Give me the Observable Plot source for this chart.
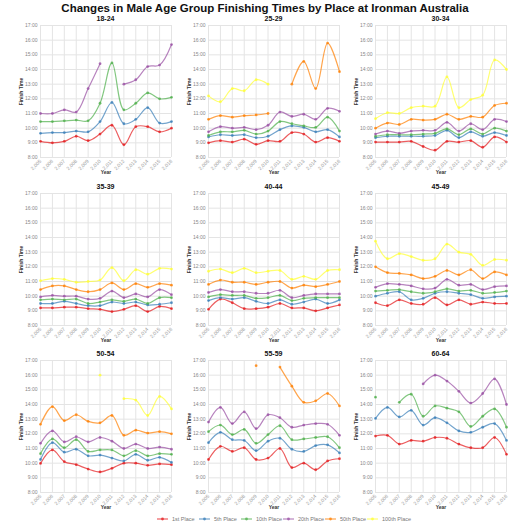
<!DOCTYPE html>
<html><head><meta charset="utf-8">
<script src="https://cdn.jsdelivr.net/npm/d3@7"></script>
<script src="https://cdn.jsdelivr.net/npm/@observablehq/plot@0.6"></script>
<style>
body{margin:0;background:#fff;font-family:"Liberation Sans",Arial,sans-serif;}
#wrap{position:relative;width:530px;height:530px;overflow:hidden;background:#fff;}
#title{position:absolute;top:2px;left:0;width:530px;text-align:center;font-weight:bold;font-size:11.5px;color:#111;}
.panel{position:absolute;}
.ptitle{position:absolute;width:131px;text-align:center;font-weight:bold;font-size:7px;color:#111;line-height:8px;}
.panel svg [aria-label="y-axis label"],.panel svg [aria-label="x-axis label"]{fill:#333;font-weight:bold;}
#legend{position:absolute;top:516px;left:157px;display:flex;}
.item{width:42px;display:flex;align-items:center;font-size:5.5px;color:#777;white-space:nowrap;}
.item svg{margin-right:4px;flex:none;}
</style></head>
<body><div id="wrap"><div id="title">Changes in Male Age Group Finishing Times by Place at Ironman Australia</div><div id="legend"></div></div>
<script>
const years = [2005,2006,2007,2008,2009,2010,2011,2012,2013,2014,2015,2016];
const places = ["1st Place","5th Place","10th Place","20th Place","50th Place","100th Place"];
const ageGroups = ["18-24","25-29","30-34","35-39","40-44","45-49","50-54","55-59","60-64"];
const colors = ["#e41a1c","#377eb8","#4daf4a","#984ea3","#ff7f00","#ffff33"];
const yTicks = [8,9,10,11,12,13,14,15,16,17];

// finishing times in hours, one row per place (1st, 5th, 10th, 20th, 50th, 100th)
const age18_24 = [
  [9.1,9.0,9.1,9.45,9.15,9.6,10.2,8.87,10.1,10.1,9.75,10.0],
  [9.65,9.7,9.7,9.8,9.75,10.45,11.75,10.3,10.6,11.4,10.35,10.45],
  [10.45,10.45,10.5,10.55,10.5,11.7,14.45,11.25,11.7,12.4,12.0,12.1],
  [11.0,11.0,11.25,11.1,12.7,14.4,null,13.0,13.3,14.2,14.3,15.7],
  [],
  []
];
const age25_29 = [
  [9.0,9.15,9.05,9.25,8.9,9.15,9.1,9.7,9.6,9.05,9.35,9.1],
  [9.4,9.55,9.5,9.55,9.35,9.45,9.9,10.15,10.05,9.75,9.9,9.4],
  [9.5,9.75,9.75,9.85,9.6,9.8,10.45,10.3,10.15,10.05,10.75,9.8],
  [9.75,10.1,10.0,10.05,9.9,10.2,11.1,10.8,10.95,10.6,11.35,11.15],
  [10.6,10.85,10.75,10.85,10.9,11.0,null,13.0,14.55,12.7,15.8,13.85],
  [12.2,11.8,12.7,12.55,13.3,13.0,null,null,null,null,null,null]
];
const age30_34 = [
  [9.05,9.05,9.05,9.1,8.75,8.5,9.1,9.05,9.15,8.7,9.4,9.05],
  [9.35,9.45,9.45,9.45,9.45,9.5,9.85,9.35,9.75,9.45,9.7,9.5],
  [9.45,9.55,9.55,9.55,9.6,9.65,9.95,9.55,9.95,9.6,10.0,9.8],
  [9.6,9.8,9.65,9.8,9.85,9.85,10.4,9.8,10.3,9.9,10.6,10.45],
  [10.0,10.35,10.25,10.6,10.55,10.6,10.95,10.6,10.8,10.75,11.55,11.7],
  [10.65,11.05,11.0,11.4,11.5,11.5,13.5,11.4,11.95,12.25,14.65,14.0]
];
const age35_39 = [
  [9.2,9.2,9.25,9.25,9.15,9.1,8.95,9.1,9.35,8.95,9.3,9.15],
  [9.5,9.5,9.65,9.5,9.35,9.35,9.6,9.5,9.6,9.4,9.45,9.55],
  [9.75,9.8,9.75,9.8,9.5,9.6,9.75,9.65,9.8,9.5,9.9,9.9],
  [9.95,10.05,10.0,10.0,9.8,9.85,10.35,9.9,10.15,9.95,10.45,10.1],
  [10.45,10.7,10.7,10.45,10.3,10.45,10.9,10.45,10.85,10.6,10.85,10.75],
  [11.05,11.2,11.15,10.95,11.0,11.1,11.95,11.05,11.8,11.5,11.9,11.85]
];
const age40_44 = [
  [9.1,9.8,9.55,9.15,9.15,9.25,9.5,9.2,9.2,9.0,9.2,9.4],
  [9.7,9.9,9.8,9.9,9.65,9.5,9.75,9.45,9.6,9.8,9.5,9.75],
  [9.95,10.1,10.05,10.05,9.85,9.9,10.05,9.7,9.85,9.9,9.9,9.9],
  [10.25,10.45,10.3,10.3,10.2,10.2,10.4,9.9,10.05,10.15,10.15,10.15],
  [10.8,11.1,10.95,10.95,10.8,10.95,11.0,10.55,10.75,10.65,10.8,11.0],
  [11.7,11.85,11.6,11.9,11.6,11.7,11.75,11.15,11.35,11.15,11.75,11.8]
];
const age45_49 = [
  [9.55,9.35,9.75,9.5,9.45,9.9,9.4,9.75,9.45,9.6,9.5,9.5],
  [10.0,10.2,10.3,9.75,9.85,10.2,10.3,10.2,10.1,9.85,9.95,10.0],
  [10.35,10.4,10.45,10.3,10.2,10.3,10.5,10.35,10.4,10.2,10.25,10.35],
  [10.6,10.85,10.8,10.7,10.5,10.55,11.15,10.75,10.8,10.45,10.65,10.7],
  [12.0,11.6,11.55,11.45,11.2,11.35,11.75,11.45,11.8,11.2,11.65,11.45],
  [13.75,12.55,12.9,12.7,12.45,12.55,13.55,13.0,12.85,12.1,12.5,12.45]
];
const age50_54 = [
  [9.98,10.9,10.1,9.9,9.6,9.4,9.65,10.0,10.0,9.85,9.95,9.9],
  [10.25,11.4,10.75,10.95,10.5,10.55,10.35,10.15,10.6,10.2,10.4,10.05],
  [10.65,11.65,11.05,11.6,10.8,10.9,10.9,10.5,10.85,10.5,10.65,10.6],
  [11.35,12.2,11.45,11.8,11.45,11.75,11.5,11.0,11.3,11.0,11.1,10.95],
  [12.65,13.85,12.9,13.3,12.85,12.75,13.25,11.9,12.25,12.05,12.15,12.0],
  [null,null,null,null,null,16.0,null,14.4,14.3,13.25,14.55,13.7]
];
const age55_59 = [
  [10.25,11.15,10.8,11.05,10.25,10.35,11.0,9.7,10.0,9.55,10.15,10.3],
  [11.4,12.1,11.6,11.55,10.85,11.5,11.7,10.95,10.8,11.2,11.25,10.7],
  [12.15,12.6,11.95,12.3,11.35,11.95,12.55,11.6,11.65,11.75,11.8,11.05],
  [12.8,13.8,12.7,13.5,12.35,13.3,13.1,12.45,12.6,12.7,12.65,11.9],
  [null,null,null,null,16.65,null,16.55,15.25,14.15,14.25,14.75,13.9],
  []
];
const age60_64 = [
  [11.85,11.9,11.3,11.55,11.5,11.75,11.7,11.3,11.05,11.05,11.75,10.6],
  [13.05,13.8,13.15,13.6,12.6,13.1,12.75,12.2,12.1,12.45,12.7,11.55],
  [14.5,null,14.15,14.7,13.2,13.9,13.75,13.5,12.5,13.2,13.7,12.45],
  [null,null,null,null,15.4,16.0,15.6,14.9,14.1,14.75,15.75,14.0],
  [],
  []
];
const groupSeries = [age18_24,age25_29,age30_34,age35_39,age40_44,age45_49,age50_54,age55_59,age60_64];

const wrap = document.getElementById("wrap");
const fmtYear = d3.format(",");

ageGroups.forEach((group, i) => {
  const rows = [];
  groupSeries[i].forEach((vals, p) => {
    years.forEach((yr, k) => {
      rows.push({year: yr, time: vals[k] === undefined ? null : vals[k], place: places[p]});
    });
  });
  const chart = Plot.plot({
    width: 177, height: 167,
    marginLeft: 40, marginRight: 6, marginTop: 25, marginBottom: 10,
    style: {background: "none", overflow: "visible", fontSize: "5px", fontFamily: "'Liberation Sans', Arial, sans-serif"},
    x: {domain: [2005, 2016]},
    y: {domain: [8, 17]},
    color: {domain: places, range: colors},
    marks: [
      Plot.gridX({ticks: years, stroke: "#e4e4e4", strokeOpacity: 1}),
      Plot.gridY({ticks: yTicks, stroke: "#e4e4e4", strokeOpacity: 1}),
      Plot.axisY({ticks: yTicks, tickFormat: d => d + ":00", tickSize: 0, tickPadding: 3, color: "#888",
        label: "Finish Time", labelAnchor: "center", labelOffset: 21, labelArrow: "none"}),
      Plot.axisX({ticks: years, tickFormat: fmtYear, tickRotate: -45, tickSize: 0, tickPadding: 3, color: "#999",
        label: "Year", labelAnchor: "center", labelOffset: 16, labelArrow: "none"}),
      Plot.line(rows, {x: "year", y: "time", stroke: "place", z: "place", curve: "catmull-rom", strokeWidth: 1.2, strokeOpacity: 0.7}),
      Plot.dot(rows, {x: "year", y: "time", fill: "place", r: 1.4, fillOpacity: 0.75})
    ]
  });
  const left = Math.round(167.5 * (i % 3));
  const top = Math.round(167.5 * Math.floor(i / 3));
  const div = document.createElement("div");
  div.className = "panel";
  div.style.left = left + "px";
  div.style.top = top + "px";
  div.appendChild(chart);
  wrap.appendChild(div);
  const t = document.createElement("div");
  t.className = "ptitle";
  t.textContent = group;
  t.style.left = (left + 40) + "px";
  t.style.top = (top + 15) + "px";
  wrap.appendChild(t);
});

const legend = document.getElementById("legend");
places.forEach((p, i) => {
  const item = document.createElement("div");
  item.className = "item";
  item.innerHTML = `<svg width="11" height="6"><line x1="0" x2="11" y1="3" y2="3" stroke="${colors[i]}" stroke-opacity="0.7" stroke-width="1.2"/><circle cx="5.5" cy="3" r="1.4" fill="${colors[i]}" fill-opacity="0.75"/></svg><span>${p}</span>`;
  legend.appendChild(item);
});
</script></body></html>
